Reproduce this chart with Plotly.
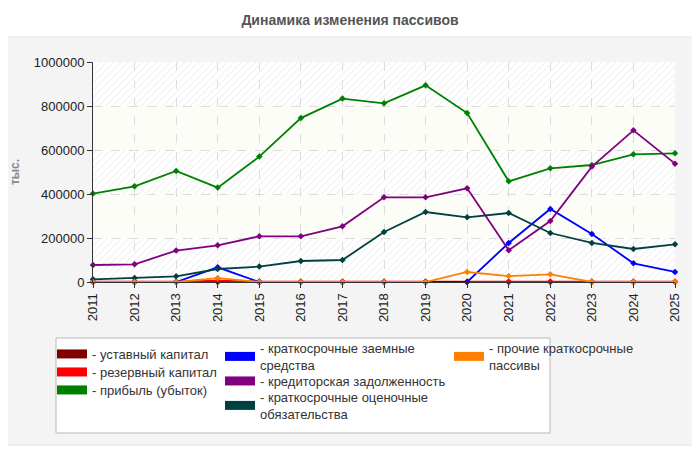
import plotly.graph_objects as go

years = list(range(2011, 2026))

ustavny = [100] * 15
rezervny = [2000, 2000, 2000, 6000, 2000, 2000, 2000, 2000, 2000, 2000, 2000, 2000, 2000, 2000, 2000]
pribyl = [401800, 435000, 504500, 429000, 570000, 745000, 833600, 812000, 894000, 768000,
          457700, 516800, 531800, 580500, 585000]
zaemnye = [0, 0, 0, 66800, 0, 0, 0, 0, 0, 0, 177300, 332000, 218000, 85000, 45500]
kreditor = [77300, 80500, 142700, 166800, 207700, 207700, 253000, 385000, 385000, 426000,
            144000, 277300, 524500, 689500, 538000]
otsenochnye = [12300, 18000, 26000, 59000, 70000, 95500, 100000, 227000, 318000, 294000,
               313600, 222700, 177300, 150000, 171400]
prochie = [0, 0, 0, 18000, 0, 0, 0, 0, 0, 45500, 27000, 35000, 0, 0, 0]

series = [
    ("уставный капитал", ustavny, "#800000"),
    ("резервный капитал", rezervny, "#ff0000"),
    ("прибыль (убыток)", pribyl, "#008000"),
    ("краткосрочные заемные<br>средства", zaemnye, "#0000ff"),
    ("кредиторская задолженность", kreditor, "#800080"),
    ("краткосрочные оценочные<br>обязательства", otsenochnye, "#004040"),
    ("прочие краткосрочные<br>пассивы", prochie, "#ff8000"),
]

y_ticks = [0, 200000, 400000, 600000, 800000, 1000000]

FONT = "Liberation Sans, Arial, sans-serif"

# the page has an 8px body margin, so the figure is laid out in screen pixels minus 8
OFF = 8
W, H = 700 - OFF, 450 - OFF
L, R, T, B = 93 - OFF, 25, 62 - OFF, 168
pw, ph = W - L - R, H - T - B

def px(x):
    return (x - OFF - L) / pw

def py(y):
    return (H - B - (y - OFF)) / ph

# legend entry placement (screen px: left, top)
legend_pos = [(52, 339), (52, 357), (52, 375),
              (220, 333), (220, 366), (220, 382),
              (449, 333)]

fig = go.Figure()

# hatched background bands (0-200k, 400k-600k, 800k-1M)
for i in range(0, len(y_ticks) - 1, 2):
    fig.add_trace(go.Bar(
        x=[(years[0] + years[-1]) / 2], y=[y_ticks[i + 1] - y_ticks[i]], base=[y_ticks[i]],
        width=[years[-1] - years[0]],
        marker=dict(color="rgba(0,0,0,0)", line=dict(width=0),
                    pattern=dict(shape="/", fgcolor="#e4e4e4", bgcolor="rgba(255,255,255,0)",
                                 size=5, solidity=0.15, fillmode="replace")),
        showlegend=False, hoverinfo="skip"))

for name, vals, color in series:
    fig.add_trace(go.Scatter(
        x=years, y=vals, mode="lines+markers", name=name, showlegend=False,
        line=dict(color=color, width=1.8),
        marker=dict(symbol="diamond", size=5, color=color),
        cliponaxis=False))

legends = {}
for k, (name, vals, color) in enumerate(series):
    key = "legend" if k == 0 else f"legend{k + 1}"
    fig.add_trace(go.Scatter(
        x=[None], y=[None], mode="lines", name="- " + name, legend=key,
        line=dict(color=color, width=9)))
    lx, ly = legend_pos[k]
    legends[key] = dict(x=px(lx), y=py(ly), bgcolor="rgba(0,0,0,0)", borderwidth=0,
                        yanchor="top", xanchor="left",
                        font=dict(family=FONT, size=13, color="#333"), itemwidth=30)

shapes = [
    dict(type="rect", xref="paper", yref="paper", x0=px(1), x1=px(695), y0=py(445), y1=py(37),
         fillcolor="#f4f4f4", line=dict(color="#e2e2e2", width=1), layer="below"),
    dict(type="rect", xref="paper", yref="paper", x0=0, x1=1, y0=0, y1=1,
         fillcolor="#fdfdf7", line=dict(width=0), layer="below"),
    dict(type="rect", xref="paper", yref="paper", x0=px(56), x1=px(550), y0=py(433), y1=py(338),
         fillcolor="white", line=dict(color="#b8b8b8", width=1), layer="below"),
]
for i in range(0, len(y_ticks) - 1, 2):
    shapes.append(dict(type="rect", xref="paper", yref="y", x0=0, x1=1,
                       y0=y_ticks[i], y1=y_ticks[i + 1], fillcolor="white",
                       line=dict(width=0), layer="below"))

fig.update_layout(
    width=W, height=H,
    margin=dict(l=L, r=R, t=T, b=B, autoexpand=False),
    paper_bgcolor="white", plot_bgcolor="rgba(0,0,0,0)",
    barmode="overlay",
    shapes=shapes,
    title=dict(text="<b>Динамика изменения пассивов</b>", x=(350 - OFF) / W, xref="container",
               xanchor="center", y=1 - (20 - OFF) / H, yref="container", yanchor="middle",
               font=dict(family=FONT, size=14, color="#555")),
    xaxis=dict(range=[years[0], years[-1]], tickmode="array", tickvals=years, automargin=False,
               ticktext=[str(y) for y in years], tickangle=-90,
               showgrid=True, gridcolor="#dcdcdc", griddash="dash", gridwidth=1,
               showline=True, linecolor="#333", linewidth=1, ticks="outside", ticklen=5,
               tickcolor="#333", zeroline=False,
               tickfont=dict(family=FONT, size=13, color="#222")),
    yaxis=dict(range=[0, 1000000], tickmode="array", tickvals=y_ticks, automargin=False,
               ticktext=[str(v) for v in y_ticks],
               showgrid=True, gridcolor="#dcdcdc", griddash="dash", gridwidth=1,
               showline=True, linecolor="#333", linewidth=1, ticks="outside", ticklen=5,
               tickcolor="#333", zeroline=False,
               title=dict(text="<b>тыс.</b>", standoff=14,
                          font=dict(family=FONT, size=12, color="#888")),
               tickfont=dict(family=FONT, size=13, color="#222")),
    **legends,
)

fig.write_html("out.html")
